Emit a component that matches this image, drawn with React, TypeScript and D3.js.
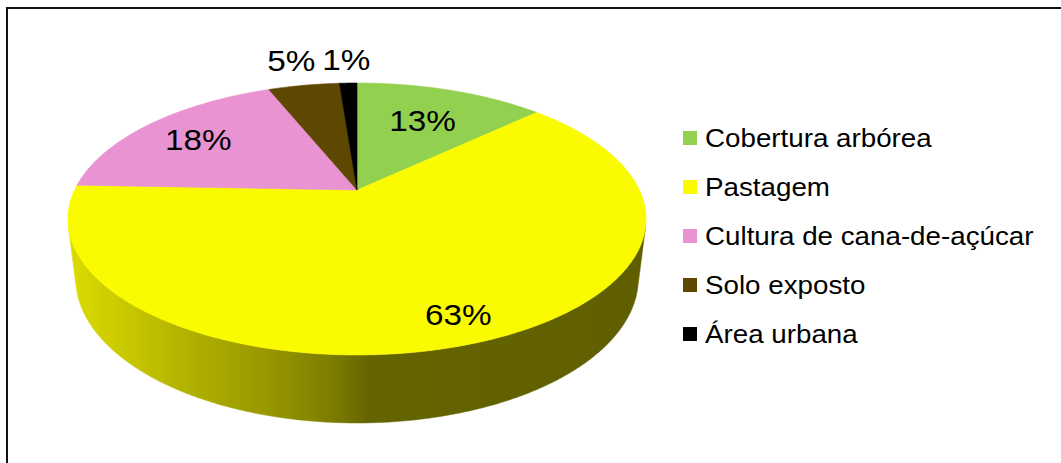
import React from "react";
import * as d3 from "d3";

// ---- data ----
const categories = [
  "Cobertura arbórea",
  "Pastagem",
  "Cultura de cana-de-açúcar",
  "Solo exposto",
  "Área urbana",
];
const values = [13.0, 62.6, 18.3, 4.9, 1.2];
const colors = ["#92d050", "#fafa00", "#e993d2", "#5e4700", "#000000"];

// ---- layout / style ----
const W = 1061;
const HGT = 463;
const CX = 357;
const CY = 190;
const F = 1176.5;
const DIST = 4.166;
const SIN = 0.4596;
const COS = 0.8881;
const THICK = 0.2377;
const LABEL_R = [0.66, 0.85, 0.75, 1.3, 1.28];
const TEXT_STRETCH = 1.11;
const WALL_STOPS: [number, number][] = [
  [0, 0.88],
  [0.11, 0.79],
  [0.23, 0.69],
  [0.35, 0.6],
  [0.455, 0.5],
  [0.52, 0.4],
  [1, 0.38],
];
const FONT = "'Liberation Sans', Arial, Helvetica, sans-serif";

function project(x: number, y: number, z: number): [number, number] {
  const yc = z * SIN + y * COS;
  const zc = DIST + z * COS - y * SIN;
  return [CX + (F * x) / zc, CY - (F * yc) / zc];
}
function rim(theta: number, r: number, y: number): [number, number] {
  return project(r * Math.sin(theta), y, r * Math.cos(theta));
}
function arcPts(a0: number, a1: number, y: number): [number, number][] {
  const n = Math.max(2, Math.ceil(Math.abs(a1 - a0) / (Math.PI / 360)));
  const pts: [number, number][] = [];
  for (let i = 0; i <= n; i++) {
    pts.push(rim(a0 + ((a1 - a0) * i) / n, 1, y));
  }
  return pts;
}
const toPath = (pts: [number, number][]) =>
  "M" + pts.map((p) => p[0].toFixed(2) + "," + p[1].toFixed(2)).join("L") + "Z";

export default function App() {
  const pie = d3
    .pie<number>()
    .sort(null)
    .value((d) => d)(values);
  const total = d3.sum(values);
  const fmt = d3.format(".0%");

  const c0 = -1 / (DIST * COS);
  const vis0 = Math.acos(c0);
  const vis1 = 2 * Math.PI - vis0;

  const xs = d3.range(0, 361).map((a) => rim((a * Math.PI) / 180, 1, 0)[0]);
  const gx0 = d3.min(xs)!;
  const gx1 = d3.max(xs)!;

  const vertex = project(0, 0, 0);

  return (
    <svg
      width={W}
      height={HGT}
      style={{ position: "absolute", left: 0, top: 0, display: "block", background: "#fff" }}
    >
      <defs>
        {colors.map((c, i) => {
          const rgb = d3.rgb(c);
          return (
            <linearGradient
              key={i}
              id={"wall" + i}
              gradientUnits="userSpaceOnUse"
              x1={gx0}
              x2={gx1}
              y1={0}
              y2={0}
            >
              {WALL_STOPS.map(([o, k], j) => (
                <stop
                  key={j}
                  offset={o}
                  stopColor={d3.rgb(rgb.r * k, rgb.g * k, rgb.b * k).formatHex()}
                />
              ))}
            </linearGradient>
          );
        })}
      </defs>
      <rect x={0} y={0} width={W} height={HGT} fill="#fff" />
      <rect x={7} y={8} width={W + 20} height={HGT + 20} fill="none" stroke="#111" strokeWidth={2} />

      {pie.map((s, i) => {
        const a0 = Math.max(s.startAngle, vis0);
        const a1 = Math.min(s.endAngle, vis1);
        if (a1 <= a0) return null;
        const top = arcPts(a0, a1, 0);
        const bot = arcPts(a0, a1, -THICK).reverse();
        return (
          <path
            key={"w" + i}
            d={toPath([...top, ...bot])}
            fill={`url(#wall${i})`}
            stroke={`url(#wall${i})`}
            strokeWidth={0.5}
          />
        );
      })}

      {pie.map((s, i) => (
        <path
          key={"t" + i}
          d={toPath([vertex, ...arcPts(s.startAngle, s.endAngle, 0)])}
          fill={colors[i]}
          stroke={colors[i]}
          strokeWidth={0.6}
          strokeLinejoin="round"
        />
      ))}

      {pie.map((s, i) => {
        const mid = (s.startAngle + s.endAngle) / 2;
        const [x, y] = rim(mid, LABEL_R[i], 0);
        return (
          <text
            key={"l" + i}
            transform={`translate(${x},${y}) scale(${TEXT_STRETCH},1)`}
            dy="0.36em"
            textAnchor="middle"
            fontFamily={FONT}
            fontSize={30}
            fill="#000"
          >
            {fmt(s.data / total)}
          </text>
        );
      })}

      {categories.map((c, i) => {
        const y = 138 + i * 49;
        return (
          <g key={"g" + i}>
            <rect x={683} y={y - 7} width={14} height={14} fill={colors[i]} />
            <text
              transform={`translate(705,${y}) scale(${TEXT_STRETCH},1)`}
              dy="0.36em"
              fontFamily={FONT}
              fontSize={25}
              fill="#000"
            >
              {c}
            </text>
          </g>
        );
      })}
    </svg>
  );
}
